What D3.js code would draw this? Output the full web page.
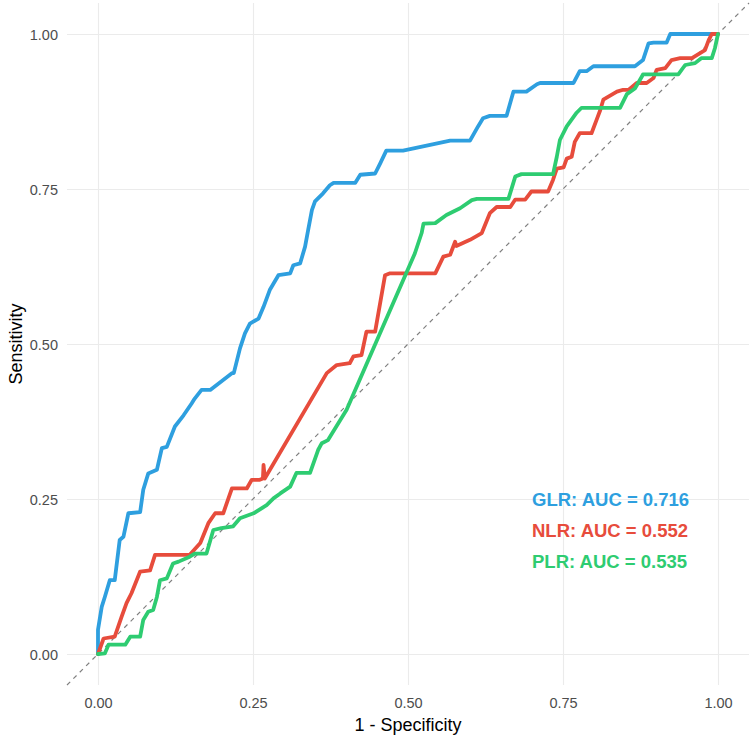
<!DOCTYPE html>
<html>
<head>
<meta charset="utf-8">
<script src="https://cdn.jsdelivr.net/npm/d3@7"></script>
<style>
  body { margin: 0; background: #fff; }
  svg { display: block; font-family: "Liberation Sans", Arial, sans-serif; }
</style>
</head>
<body>
<div id="chart"></div>
<script>
// ROC curves, values (fpr = 1 - specificity, tpr = sensitivity)
const glrFpr = [0, 0, .006, .011, .019, .027, .035, .041, .049, .068, .073, .081, .095, .103, .111, .124, .138, .151, .156, .167, .181, .216, .219, .229, .237, .245, .259, .267, .277, .291, .310, .315, .326, .334, .339, .345, .350, .363, .374, .380, .415, .423, .447, .455, .465, .492, .568, .600, .613, .621, .632, .659, .670, .691, .708, .713, .767, .777, .788, .799, .866, .879, .888, .896, .917, .923, 1];
const glrTpr = [0, .039, .076, .092, .119, .119, .184, .189, .227, .229, .265, .291, .297, .332, .334, .367, .385, .404, .412, .426, .426, .453, .453, .493, .517, .533, .541, .560, .587, .611, .614, .627, .630, .657, .684, .716, .730, .743, .756, .760, .760, .773, .775, .791, .812, .812, .828, .828, .851, .864, .868, .868, .907, .907, .919, .921, .921, .940, .940, .948, .948, .958, .985, .986, .986, 1, 1];

const nlrFpr = [0, .009, .027, .038, .046, .054, .068, .084, .092, .148, .165, .178, .189, .202, .216, .240, .248, .261, .266, .267, .269, .369, .385, .406, .412, .425, .433, .447, .463, .471, .544, .557, .568, .576, .578, .600, .619, .632, .643, .665, .673, .689, .699, .726, .734, .740, .751, .756, .764, .769, .777, .796, .804, .810, .815, .837, .847, .856, .869, .885, .896, .901, .915, .925, .939, .958, .979, .985, .990, 1];
const nlrTpr = [0, .025, .028, .060, .082, .098, .133, .135, .160, .160, .179, .211, .227, .227, .267, .267, .281, .281, .283, .305, .283, .453, .466, .469, .480, .482, .520, .520, .611, .614, .614, .641, .644, .665, .658, .668, .679, .711, .721, .721, .733, .733, .746, .746, .765, .783, .785, .799, .802, .826, .840, .840, .861, .877, .894, .907, .910, .910, .921, .921, .929, .942, .945, .958, .961, .961, .974, .990, 1, 1];

const plrFpr = [0, .011, .017, .044, .052, .068, .073, .081, .089, .095, .100, .111, .121, .130, .148, .156, .175, .186, .199, .218, .229, .251, .272, .283, .294, .310, .320, .342, .355, .361, .371, .401, .511, .522, .525, .544, .562, .584, .603, .611, .662, .673, .683, .734, .740, .745, .756, .772, .780, .842, .853, .866, .877, .879, .936, .947, .963, .973, .990, .995, 1];
const plrTpr = [0, .001, .015, .015, .028, .028, .055, .068, .071, .092, .119, .122, .146, .149, .157, .162, .162, .200, .203, .206, .219, .227, .240, .251, .259, .270, .292, .292, .329, .340, .345, .394, .646, .679, .694, .695, .708, .719, .732, .734, .734, .770, .774, .774, .802, .829, .851, .873, .881, .881, .903, .912, .931, .935, .935, .950, .953, .961, .961, .977, 1];

const seriesNames = ["GLR", "NLR", "PLR"];
const seriesColors = ["#2E9FDF", "#E74C3C", "#2ECC71"];
const aucLabels = ["GLR: AUC = 0.716", "NLR: AUC = 0.552", "PLR: AUC = 0.535"];
const aucLabelY = [0.25, 0.20, 0.15];
const aucLabelX = 0.70;
const tickValues = [0, 0.25, 0.5, 0.75, 1];

const width = 752;
const height = 741;

const xScale = d3.scaleLinear().domain([-0.05, 1.05]).range([67, 749]);
const yScale = d3.scaleLinear().domain([-0.05, 1.05]).range([685, 3]);

const svg = d3.select('#chart')
    .append('svg')
    .attr('width', width)
    .attr('height', height);

// grid (theme_minimal, major only)
svg.append('g')
    .attr('transform', `translate(0, ${yScale(-0.05)})`)
    .call(d3.axisBottom(xScale).tickValues(tickValues).tickSize(-(yScale(-0.05) - yScale(1.05))).tickFormat(''))
    .call(g => g.select('.domain').remove())
    .call(g => g.selectAll('.tick line').attr('stroke', '#EBEBEB').attr('stroke-width', 1.1));

svg.append('g')
    .attr('transform', `translate(${xScale(-0.05)}, 0)`)
    .call(d3.axisLeft(yScale).tickValues(tickValues).tickSize(-(xScale(1.05) - xScale(-0.05))).tickFormat(''))
    .call(g => g.select('.domain').remove())
    .call(g => g.selectAll('.tick line').attr('stroke', '#EBEBEB').attr('stroke-width', 1.1));

// tick labels
svg.append('g')
    .attr('transform', `translate(0, 708)`)
    .call(d3.axisBottom(xScale).tickValues(tickValues).tickSize(0).tickPadding(0).tickFormat(d3.format('.2f')))
    .call(g => g.select('.domain').remove())
    .call(g => g.selectAll('.tick text')
        .attr('dy', null).attr('y', 0)
        .style('font-size', '14.5px').style('font-family', '"Liberation Sans", Arial, sans-serif')
        .attr('fill', '#4D4D4D'));

svg.append('g')
    .attr('transform', `translate(58, 0)`)
    .call(d3.axisLeft(yScale).tickValues(tickValues).tickSize(0).tickPadding(0).tickFormat(d3.format('.2f')))
    .call(g => g.select('.domain').remove())
    .call(g => g.selectAll('.tick text')
        .attr('dy', '0.36em')
        .style('font-size', '14.5px').style('font-family', '"Liberation Sans", Arial, sans-serif')
        .attr('fill', '#4D4D4D'));

// reference diagonal
svg.append('line')
    .attr('x1', xScale(-0.05)).attr('y1', yScale(-0.05))
    .attr('x2', xScale(1.05)).attr('y2', yScale(1.05))
    .attr('stroke', '#808080')
    .attr('stroke-width', 1.2)
    .attr('stroke-dasharray', '4.5,4.5');

// ROC curves
const curves = [
    { fpr: glrFpr, tpr: glrTpr },
    { fpr: nlrFpr, tpr: nlrTpr },
    { fpr: plrFpr, tpr: plrTpr }
];

const line = d3.line()
    .x(d => xScale(d[0]))
    .y(d => yScale(d[1]));

curves.forEach((c, i) => {
    svg.append('path')
        .datum(d3.zip(c.fpr, c.tpr))
        .attr('class', 'roc ' + seriesNames[i])
        .attr('fill', 'none')
        .attr('stroke', seriesColors[i])
        .attr('stroke-width', 3.8)
        .attr('stroke-linejoin', 'round')
        .attr('stroke-linecap', 'round')
        .attr('d', line);
});

// AUC annotations
svg.selectAll('.auc')
    .data(aucLabels)
    .enter()
    .append('text')
    .attr('class', 'auc')
    .attr('x', xScale(aucLabelX))
    .attr('y', (d, i) => yScale(aucLabelY[i]))
    .attr('dy', '0.36em')
    .attr('fill', (d, i) => seriesColors[i])
    .style('font-size', '18.5px')
    .style('font-weight', 'bold')
    .text(d => d);

// axis titles
svg.append('text')
    .attr('x', xScale(0.5))
    .attr('y', 731)
    .attr('text-anchor', 'middle')
    .style('font-size', '18px')
    .text('1 - Specificity');

svg.append('text')
    .attr('transform', `translate(21.5, ${yScale(0.5)}) rotate(-90)`)
    .attr('text-anchor', 'middle')
    .style('font-size', '18px')
    .text('Sensitivity');
</script>
</body>
</html>
